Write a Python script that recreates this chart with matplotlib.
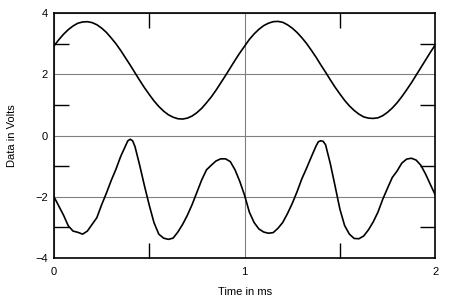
import matplotlib
matplotlib.use('Agg')
from matplotlib import pyplot as plt
from matplotlib.ticker import MultipleLocator

plt.rcParams['font.family'] = ['Liberation Sans', 'DejaVu Sans']

# time axis for the upper trace, ms (0.025 ms steps)
upper_time = [i * 0.025 for i in range(81)]

# upper trace, volts
upper_volts = [
    2.93, 3.13, 3.31, 3.46, 3.58, 3.67, 3.71, 3.72, 3.69, 3.62,
    3.51, 3.37, 3.19, 3.00, 2.78, 2.54, 2.30, 2.05, 1.80, 1.56,
    1.34, 1.13, 0.95, 0.80, 0.68, 0.60, 0.55, 0.54, 0.57, 0.64,
    0.75, 0.89, 1.07, 1.26, 1.48, 1.72, 1.96, 2.21, 2.46, 2.70,
    2.92, 3.14, 3.32, 3.47, 3.59, 3.67, 3.72, 3.73, 3.70, 3.62,
    3.51, 3.37, 3.20, 3.01, 2.79, 2.56, 2.31, 2.07, 1.82, 1.58,
    1.36, 1.15, 0.97, 0.82, 0.70, 0.61, 0.57, 0.56, 0.58, 0.65,
    0.76, 0.90, 1.07, 1.27, 1.49, 1.72, 1.97, 2.22, 2.47, 2.72,
    2.96,
]

# lower trace times, ms (extra samples around the sharp peaks)
lower_time = [
    0.000, 0.025, 0.050, 0.075, 0.100, 0.125, 0.150, 0.175, 0.200, 0.225,
    0.250, 0.275, 0.300, 0.325, 0.350, 0.375, 0.3875, 0.400, 0.4125, 0.425,
    0.450, 0.475, 0.500, 0.525, 0.550, 0.575, 0.600, 0.625, 0.650, 0.675,
    0.700, 0.725, 0.750, 0.775, 0.800, 0.825, 0.850, 0.875, 0.900, 0.925,
    0.950, 0.975, 1.000, 1.025, 1.050, 1.075, 1.100, 1.125, 1.150, 1.175,
    1.200, 1.225, 1.250, 1.275, 1.300, 1.325, 1.350, 1.375, 1.3875, 1.400,
    1.4125, 1.425, 1.450, 1.475, 1.500, 1.525, 1.550, 1.575, 1.600, 1.625,
    1.650, 1.675, 1.700, 1.725, 1.750, 1.775, 1.800, 1.825, 1.850, 1.875,
    1.900, 1.925, 1.950, 1.975, 2.000,
]

# lower trace, volts
lower_volts = [
    -2.00, -2.30, -2.60, -2.95, -3.12, -3.16, -3.22, -3.12, -2.90, -2.68,
    -2.26, -1.88, -1.47, -1.10, -0.68, -0.34, -0.17, -0.12, -0.17, -0.36,
    -0.98, -1.65, -2.28, -2.85, -3.22, -3.35, -3.39, -3.35, -3.15, -2.90,
    -2.60, -2.25, -1.85, -1.45, -1.12, -0.97, -0.83, -0.76, -0.76, -0.85,
    -1.12, -1.50, -1.95, -2.50, -2.84, -3.05, -3.15, -3.19, -3.17, -3.03,
    -2.84, -2.55, -2.22, -1.84, -1.42, -1.07, -0.70, -0.34, -0.20, -0.17,
    -0.19, -0.30, -0.92, -1.65, -2.40, -2.94, -3.22, -3.36, -3.37, -3.28,
    -3.08, -2.82, -2.50, -2.08, -1.72, -1.37, -1.16, -0.90, -0.77, -0.74,
    -0.80, -0.97, -1.26, -1.60, -1.93,
]

fig = plt.figure(figsize=(4.5, 3.05), dpi=100)
ax = fig.add_axes([0.12, 0.154, 0.847, 0.803])

ax.plot(upper_time, upper_volts, color='black', linewidth=1.2)
ax.plot(lower_time, lower_volts, color='black', linewidth=1.2)

ax.set_xlim(0, 2)
ax.set_ylim(-4, 4)

# major ticks carry the grid, minor ticks are the short inward marks
ax.xaxis.set_major_locator(MultipleLocator(1))
ax.xaxis.set_minor_locator(MultipleLocator(0.5))
ax.yaxis.set_major_locator(MultipleLocator(2))
ax.yaxis.set_minor_locator(MultipleLocator(1))
ax.grid(True, which='major', color='#808080', linewidth=0.8)

ax.tick_params(which='major', length=0, labelsize=8)
ax.tick_params(axis='x', which='major', pad=6.5)
ax.tick_params(axis='y', which='major', pad=4.3)
ax.tick_params(which='minor', direction='in', length=11, width=1,
               top=True, right=True, color='black')

for spine in ax.spines.values():
    spine.set_linewidth(1.2)

ax.set_xlabel('Time in ms', fontsize=8)
ax.set_ylabel('Data in Volts', fontsize=8)
ax.xaxis.set_label_coords(0.5, -0.12)
ax.yaxis.set_label_coords(-0.097, 0.5)

fig.savefig('out.png', dpi=100)
